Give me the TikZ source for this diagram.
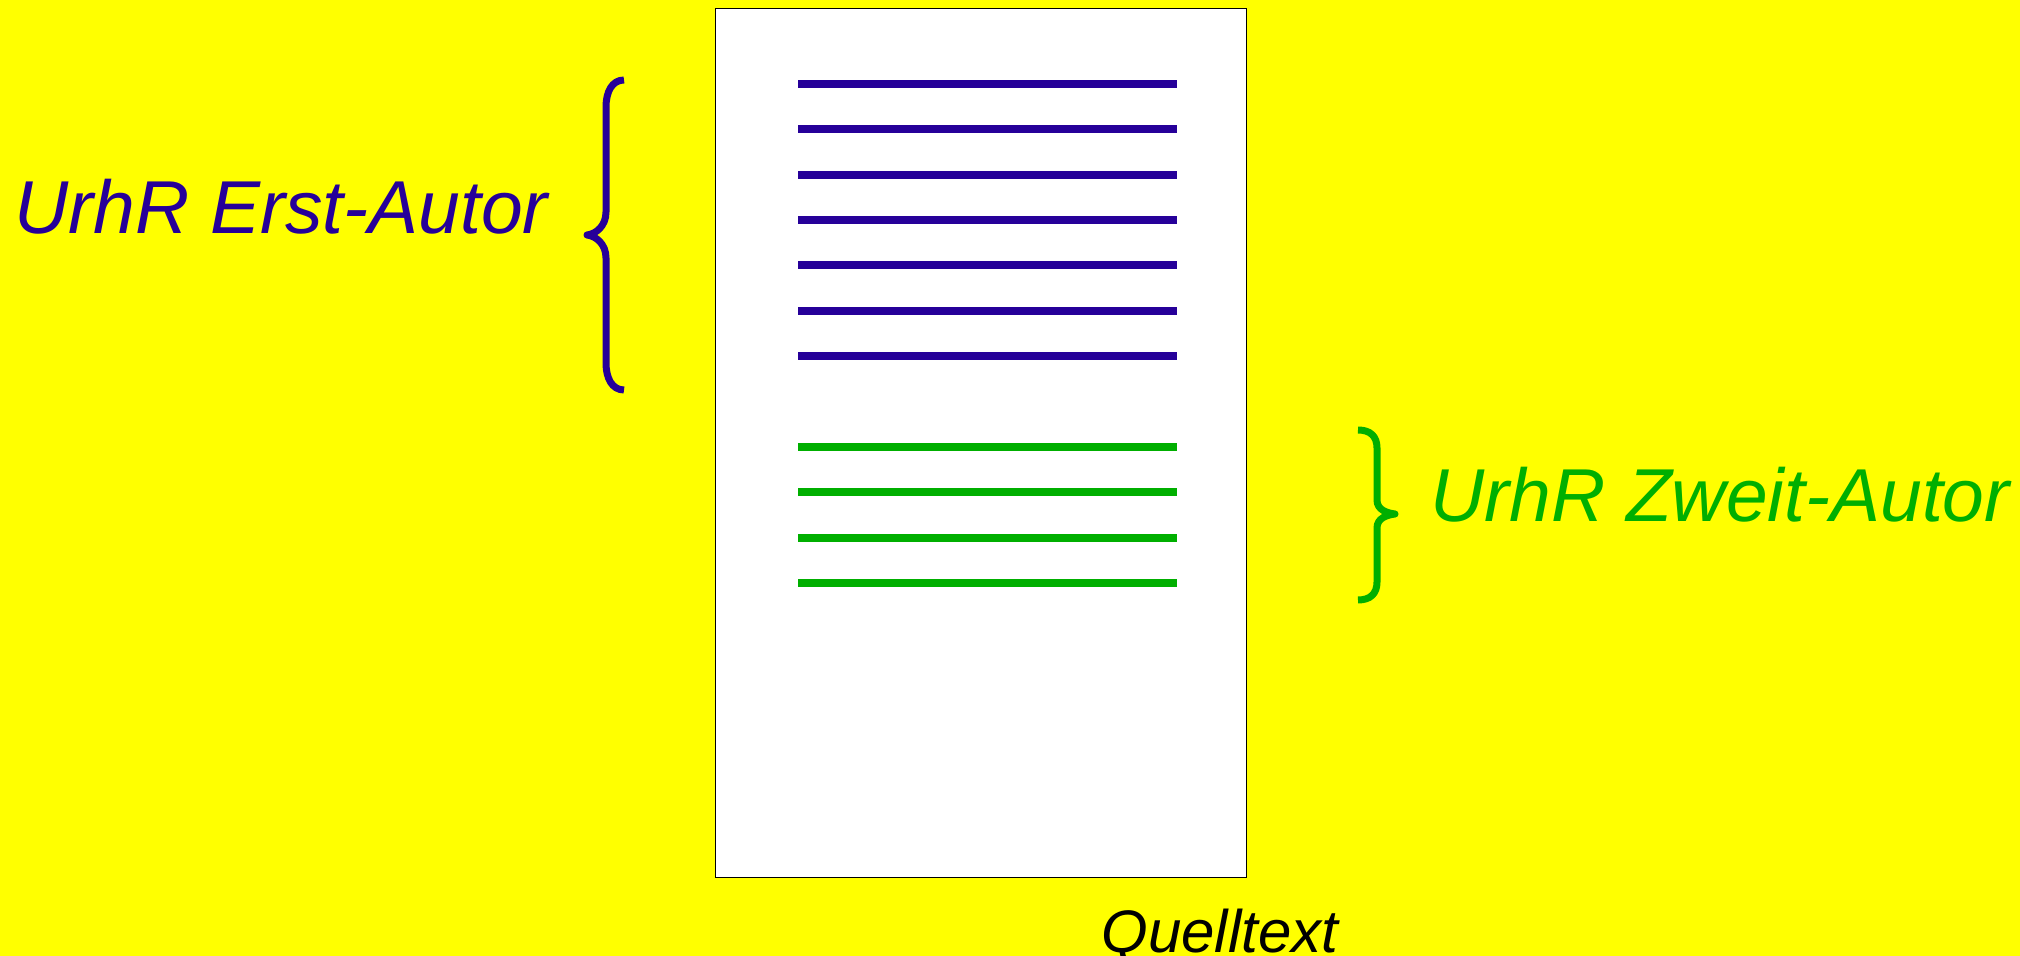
\documentclass[tikz,border=0pt]{standalone}
\usepackage{fontspec}
\setmainfont{Liberation Sans}
\definecolor{myYellow}{RGB}{255,255,0}
\definecolor{myBlue}{RGB}{38,0,153}
\definecolor{myGreen}{RGB}{0,175,0}

\begin{document}
\begin{tikzpicture}[
				x=0.5pt, y=-0.5pt,
				page/.style={draw, fill=white, line width=0.6pt, inner sep=0pt, anchor=north west, minimum width=265.5pt, minimum height=434.5pt},
				textline/.style={line width=4pt},
				brc/.style={line width=3.5pt, line join=round},
				lbl/.style={anchor=base west, inner sep=0pt, font=\fontsize{37.5}{45}\selectfont\itshape}
			]
				\useasboundingbox[fill=myYellow] (0,0) rectangle (2020,956);

				\node[page] (page) at (715,8) {};

				% lines of the first author
				\foreach \i in {0,...,6}
					\draw[textline, myBlue] (798,84+45.33*\i) -- (1177,84+45.33*\i);
				% lines of the second author
				\foreach \i in {0,...,3}
					\draw[textline, myGreen] (798,447+45.33*\i) -- (1177,447+45.33*\i);

				% braces
				\coordinate (erstTop) at (624,80);
				\coordinate (erstBot) at (624,390);
				\coordinate (zweitTop) at (1358,430);
				\coordinate (zweitBot) at (1358,600);
				\draw[brc, myBlue] (erstTop) .. controls +(-12,0) and +(0,-15) .. ++(-18,27) -- ++(0,105)
					.. controls +(0,14) and +(9,-1) .. ++(-19,23) .. controls +(9,1) and +(0,-14) .. ++(19,23)
					-- ++(0,105) .. controls +(0,15) and +(-12,0) .. (erstBot);
				\draw[brc, myGreen] (zweitTop) .. controls +(12,0) and +(0,-12) .. ++(19,18) -- ++(0,52)
					.. controls +(0,10) and +(-8,-1) .. ++(18,14) .. controls +(-8,1) and +(0,-10) .. ++(-18,14)
					-- ++(0,54) .. controls +(0,12) and +(12,0) .. (zweitBot);

				\node[lbl, myBlue] (erst) at (14,234) {UrhR Erst-Autor};
				\node[lbl, myGreen] (zweit) at (1430,522) {UrhR Zweit-Autor};
				\node[lbl, font=\fontsize{30}{36}\selectfont\itshape] (quelle) at (1101,952) {Quelltext};
			\end{tikzpicture}
\end{document}
